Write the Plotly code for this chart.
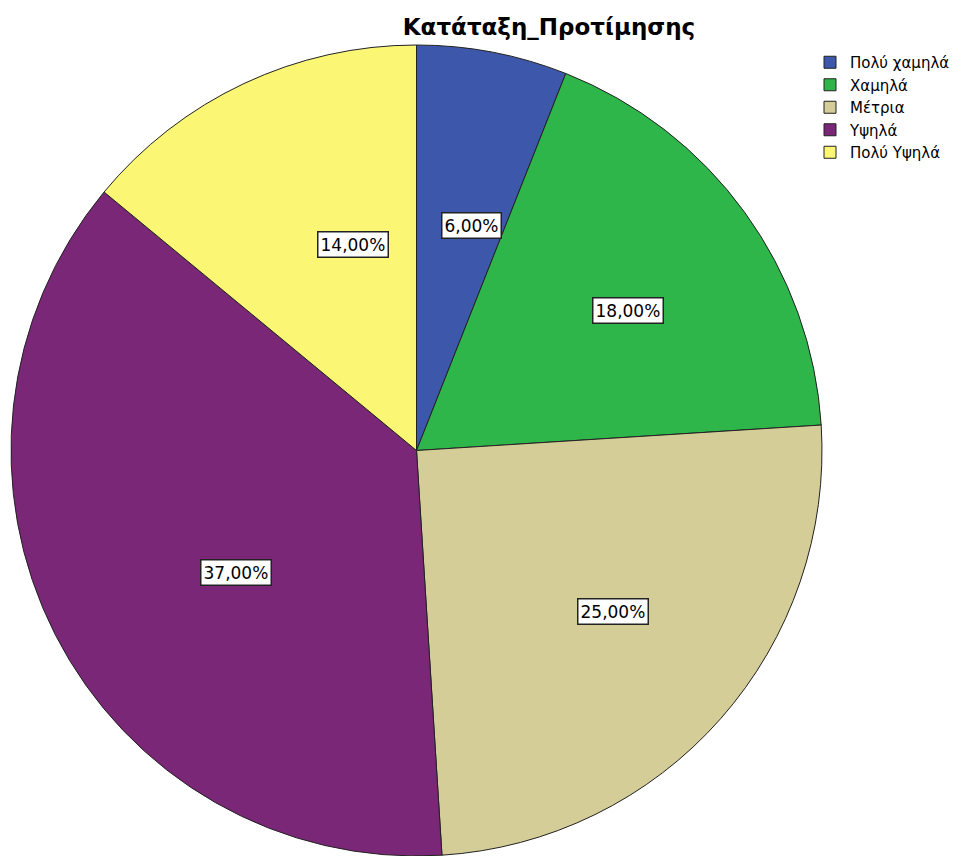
import math
import plotly.graph_objects as go

categories = ["Πολύ χαμηλά", "Χαμηλά", "Μέτρια", "Υψηλά", "Πολύ Υψηλά"]
percentages = [6.0, 18.0, 25.0, 37.0, 14.0]
colors = ["#3d58aa", "#2fb64a", "#d4cd98", "#7b2777", "#fbf775"]

W, H = 965, 856
# target pie geometry in pixels
cx, cy, R = 416.5, 450.5, 405.5
# plotly draws the pie slightly offset from its domain; compensate
off = 8
left_px, right_px = cx - R - off, cx + R - off
top_px, bottom_px = cy - R - off, cy + R - off

fig = go.Figure(go.Pie(
    labels=categories,
    values=percentages,
    sort=False,
    direction="clockwise",
    rotation=0,
    marker=dict(colors=colors, line=dict(color="#222222", width=1)),
    textinfo="none",
    hoverinfo="label+percent",
    domain=dict(x=[left_px / W, right_px / W], y=[1 - bottom_px / H, 1 - top_px / H]),
))

def fmt(v):
    return f"{v:.2f}".replace(".", ",") + "%"

total = sum(percentages)
cum = 0.0
annotations = []
for v in percentages:
    mid = (cum + v / 2) / total
    cum += v
    ang = math.pi / 2 - 2 * math.pi * mid
    f = 0.62
    px = cx + R * f * math.cos(ang)
    py = cy - R * f * math.sin(ang)
    annotations.append(dict(
        x=px / W, y=1 - py / H, xref="paper", yref="paper",
        text=fmt(v), showarrow=False,
        font=dict(family="DejaVu Sans", size=17, color="black"),
        bgcolor="white", bordercolor="#222222", borderwidth=1.5, borderpad=2,
    ))

fig.update_layout(
    width=W, height=H,
    margin=dict(l=0, r=0, t=0, b=0),
    paper_bgcolor="white",
    title=dict(text="<b>Κατάταξη_Προτίμησης</b>", x=541 / W, xanchor="center",
               y=1 - 19 / H, yanchor="middle",
               font=dict(family="DejaVu Sans", size=23, color="black")),
    legend=dict(x=802 / W, y=1 - 38 / H, xanchor="left", yanchor="top",
                font=dict(family="DejaVu Sans", size=15, color="black"),
                itemwidth=30, tracegroupgap=0, bgcolor="rgba(0,0,0,0)"),
    annotations=annotations,
)

fig.write_html("out.html")
